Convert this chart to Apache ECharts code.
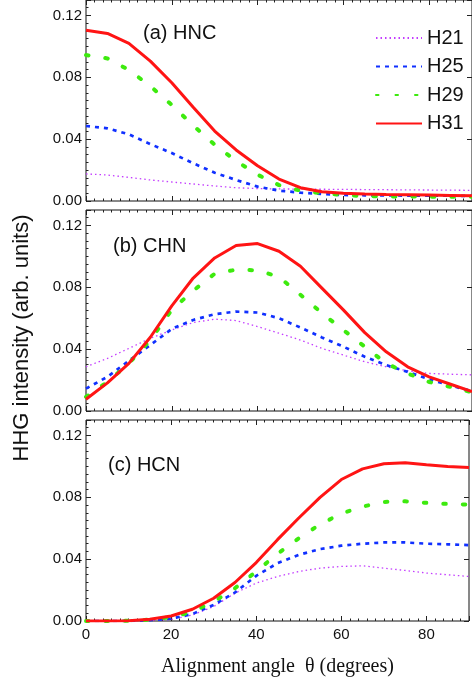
<!DOCTYPE html>
<html><head><meta charset="utf-8">
<script src="https://cdn.jsdelivr.net/npm/echarts@6/dist/echarts.min.js"></script>
<style>html,body{margin:0;padding:0;background:#fff}#c{width:472px;height:683px}</style>
</head><body><div id="c"></div><script>
// ---- data ----
const angles = [0,5,10,15,20,25,30,35,40,45,50,55,60,65,70,75,80,85,90];
const xTicks = [0,20,40,60,80];
const yTicks = [0.00,0.04,0.08,0.12];
const seriesNames = ['H21','H25','H29','H31'];
const panelLabels = ['(a) HNC','(b) CHN','(c) HCN'];

// (a) HNC
const h21a = [0.0175,0.0168,0.0153,0.0136,0.0123,0.011,0.0097,0.0086,0.008,0.0078,0.0077,0.0076,0.0075,0.0074,0.0073,0.0072,0.0071,0.007,0.0069];
const h25a = [0.0485,0.047,0.0431,0.0368,0.031,0.0244,0.0183,0.0136,0.0093,0.0067,0.0054,0.0045,0.0039,0.0037,0.0036,0.0035,0.0034,0.0034,0.0033];
const h29a = [0.0944,0.0922,0.0847,0.0743,0.0621,0.0488,0.0364,0.0259,0.017,0.0103,0.0067,0.005,0.0039,0.0032,0.003,0.0029,0.0028,0.0028,0.0028];
const h31a = [0.1105,0.1084,0.102,0.0905,0.0765,0.0606,0.0452,0.033,0.0228,0.0142,0.0086,0.006,0.005,0.0045,0.0042,0.004,0.0038,0.0036,0.0034];
// (b) CHN
const h21b = [0.0286,0.034,0.0405,0.047,0.0524,0.0572,0.0594,0.0585,0.0546,0.0503,0.0459,0.0405,0.0362,0.0318,0.0286,0.026,0.0243,0.0238,0.0234];
const h25b = [0.0145,0.0221,0.0325,0.0427,0.0531,0.0589,0.0626,0.0643,0.0637,0.06,0.054,0.0476,0.0416,0.0351,0.0297,0.0253,0.0205,0.0165,0.0128];
const h29b = [0.0091,0.0188,0.0308,0.0459,0.0654,0.0778,0.0888,0.0914,0.091,0.0867,0.0752,0.0633,0.0524,0.0416,0.0308,0.0243,0.0188,0.0156,0.0121];
const h31b = [0.0076,0.0182,0.0308,0.0477,0.068,0.086,0.099,0.107,0.1083,0.1033,0.0936,0.0795,0.0654,0.0507,0.0383,0.0286,0.0221,0.0173,0.0125];
// (c) HCN
const h21c = [0,0,0,0.0004,0.001,0.0039,0.0093,0.018,0.0245,0.0288,0.032,0.0342,0.0353,0.0357,0.0342,0.0327,0.031,0.0299,0.0288];
const h25c = [0,0,0,0.0005,0.0015,0.0045,0.0104,0.0184,0.0292,0.0374,0.0428,0.0465,0.0487,0.05,0.0508,0.0508,0.05,0.0496,0.0491];
const h29c = [0,0,0.0001,0.0009,0.0024,0.006,0.0125,0.0212,0.032,0.0435,0.0535,0.0625,0.0695,0.074,0.077,0.0774,0.0764,0.0757,0.0753];
const h31c = [0,0,0.0002,0.0011,0.0032,0.0076,0.0147,0.0249,0.0378,0.0526,0.0666,0.08,0.0915,0.0984,0.1017,0.1023,0.101,0.0999,0.0993];

const panels = [[h21a,h25a,h29a,h31a],[h21b,h25b,h29b,h31b],[h21c,h25c,h29c,h31c]];

// ---- styles ----
const SANS = 'Liberation Sans';
const SERIF = 'Liberation Serif';
const lineStyles = [
  {color:'#c33cff', width:1.3, type:[1.5,3], cap:'butt'},
  {color:'#1030ff', width:2.7, type:[4,5], cap:'butt'},
  {color:'#3dea0e', width:4, type:[2.5,17], cap:'round'},
  {color:'#ff1414', width:3, type:'solid', cap:'butt'}
];
const gridTops = [0,210,420];
const gridH = 201;
const X_MAX = 90, Y_MAX = 0.13;

const grids = [], xAxes = [], yAxes = [], series = [], graphics = [];
const tickColor = '#222';

gridTops.forEach((top, g) => {
  grids.push({left:86, width:390, top:top, height:gridH, show:true, borderColor:'#111', borderWidth:1, backgroundColor:'transparent'});
  const xBase = {gridIndex:g, type:'value', min:0, max:X_MAX,
    axisLine:{show:false, onZero:false}, splitLine:{show:false}};
  xAxes.push(Object.assign({}, xBase, {position:'bottom', interval:20,
    axisTick:{inside:true, length:5, lineStyle:{color:tickColor}},
    axisLabel:{show: g===2, margin:6, fontSize:15, fontFamily:SANS, color:'#111',
      formatter: v => xTicks.includes(v) ? String(v) : ''},
    name: g===2 ? 'Alignment angle  \u03b8 (degrees)' : '',
    nameLocation:'middle', nameGap:36,
    nameTextStyle:{fontFamily:SERIF, fontSize:20, color:'#111'}}));
  xAxes.push(Object.assign({}, xBase, {position:'bottom', interval:2,
    axisTick:{inside:true, length:2.5, lineStyle:{color:tickColor}}, axisLabel:{show:false}}));
  xAxes.push(Object.assign({}, xBase, {position:'top', interval:20,
    axisTick:{inside:true, length:5, lineStyle:{color:tickColor}}, axisLabel:{show:false}}));
  xAxes.push(Object.assign({}, xBase, {position:'top', interval:2,
    axisTick:{inside:true, length:2.5, lineStyle:{color:tickColor}}, axisLabel:{show:false}}));

  const yBase = {gridIndex:g, type:'value', min:0, max:Y_MAX,
    axisLine:{show:false, onZero:false}, splitLine:{show:false}};
  yAxes.push(Object.assign({}, yBase, {position:'left', interval:0.04,
    axisTick:{inside:true, length:5, lineStyle:{color:tickColor}},
    axisLabel:{margin:4, fontSize:15, fontFamily:SANS, color:'#111',
      formatter: v => { const t = yTicks.find(k => Math.abs(k - v) < 1e-6); return t === undefined ? '' : t.toFixed(2); }}}));
  yAxes.push(Object.assign({}, yBase, {position:'left', interval:0.005,
    axisTick:{inside:true, length:2.5, lineStyle:{color:tickColor}}, axisLabel:{show:false}}));
  yAxes.push(Object.assign({}, yBase, {position:'right', interval:0.04,
    axisTick:{inside:true, length:5, lineStyle:{color:tickColor}}, axisLabel:{show:false}}));

  panels[g].forEach((vals, s) => {
    series.push({
      name: seriesNames[s], type:'line', xAxisIndex:g*4, yAxisIndex:g*3,
      data: angles.map((a,i) => [a, vals[i]]),
      symbol:'none', smooth:false, silent:true,
      lineStyle: Object.assign({}, lineStyles[s]),
      itemStyle: {color: lineStyles[s].color}
    });
  });
});

const labelPos = [[143,33],[113,246],[108,465]];
panelLabels.forEach((t, i) => {
  graphics.push({type:'text', x:labelPos[i][0], y:labelPos[i][1], silent:true,
    style:{text:t, fontFamily:SANS, fontSize:20, fill:'#111', align:'left', verticalAlign:'middle'}});
});
graphics.push({type:'text', x:22, y:338, rotation:Math.PI/2, silent:true,
  style:{text:'HHG intensity (arb. units)', fontFamily:SANS, fontSize:22, fill:'#111', align:'center', verticalAlign:'middle'}});

const chart = echarts.init(document.getElementById('c'), null, {renderer:'canvas'});
chart.setOption({
  animation:false,
  backgroundColor:'#fff',
  grid: grids, xAxis: xAxes, yAxis: yAxes, series: series,
  legend: {data: seriesNames, orient:'vertical', left:375, top:28, padding:0, itemWidth:46, itemHeight:14, itemGap:8.5,
    selectedMode:false, itemStyle:{opacity:0, color:'transparent', borderWidth:0},
    textStyle:{fontFamily:SANS, fontSize:20, color:'#111', lineHeight:20}},
  graphic: graphics
});
</script></body></html>
